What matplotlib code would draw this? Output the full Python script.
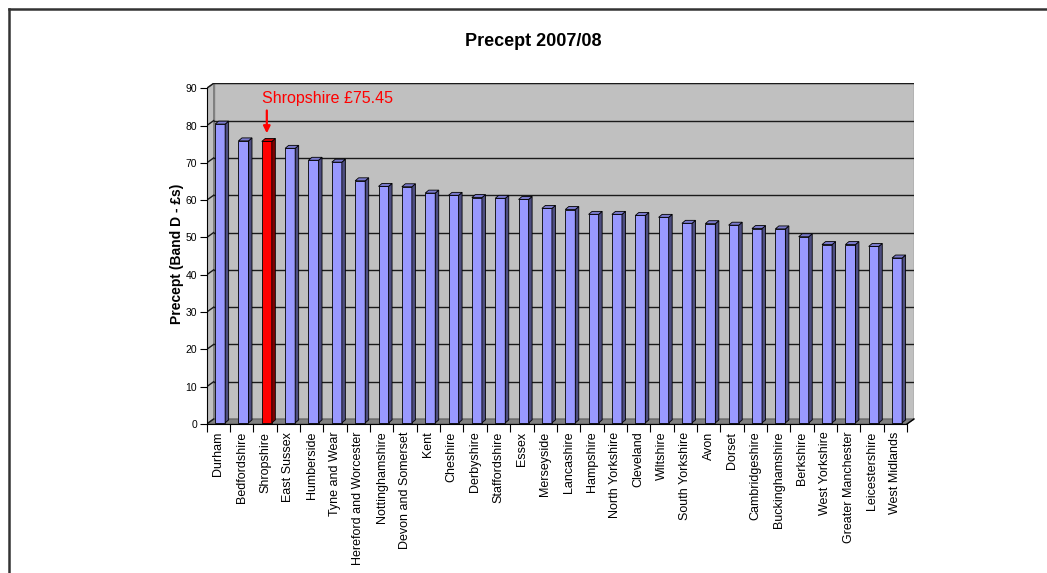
import numpy as np
import matplotlib
matplotlib.use("Agg")
import matplotlib.pyplot as plt
from matplotlib.patches import Polygon, Rectangle
from matplotlib.lines import Line2D

plt.rcParams['font.family'] = ['Liberation Sans', 'DejaVu Sans']

# Band D police precept by force area, 2007/08
forces = ["Durham", "Bedfordshire", "Shropshire", "East Sussex", "Humberside",
          "Tyne and Wear", "Hereford and Worcester", "Nottinghamshire",
          "Devon and Somerset", "Kent", "Cheshire", "Derbyshire", "Staffordshire",
          "Essex", "Merseyside", "Lancashire", "Hampshire", "North Yorkshire",
          "Cleveland", "Wiltshire", "South Yorkshire", "Avon", "Dorset",
          "Cambridgeshire", "Buckinghamshire", "Berkshire", "West Yorkshire",
          "Greater Manchester", "Leicestershire", "West Midlands"]
precept = [80.1, 75.6, 75.45, 73.6, 70.4, 69.9, 64.9, 63.4, 63.3, 61.6,
           61.0, 60.4, 60.2, 59.9, 57.5, 57.2, 55.9, 55.9, 55.6, 55.1,
           53.5, 53.4, 53.0, 52.1, 52.0, 49.9, 47.8, 47.8, 47.3, 44.2]
highlight = "Shropshire"
yticks = list(range(0, 100, 10))

n = len(forces)
# pseudo-3D depth of the walls (category units, value units)
wall_dx, wall_dy = 0.3, 1.34
# bar geometry
bar_x0, bar_w, bar_base = 0.36, 0.43, 0.3
bar_dx, bar_dy = 0.15, 0.8

W, H = 1047, 573
fig = plt.figure(figsize=(W / 100, H / 100), dpi=100)

# axes placed in pixel terms
left_px, right_px, top_px, bottom_px = 206.7, 914.0, 83.3, 424.0
ax = fig.add_axes([left_px / W, (H - bottom_px) / H,
                   (right_px - left_px) / W, (bottom_px - top_px) / H])
ax.set_xlim(0, n + wall_dx)
ax.set_ylim(0, 90 + wall_dy)
ax.patch.set_visible(False)

# walls and floor
ax.add_patch(Rectangle((wall_dx, wall_dy), n, 90, facecolor='#c0c0c0',
                       edgecolor='#808080', lw=1, zorder=0))
ax.add_patch(Polygon([(0, 0), (wall_dx, wall_dy), (wall_dx, 90 + wall_dy), (0, 90)],
                     closed=True, facecolor='#c0c0c0', edgecolor='#808080', lw=1, zorder=0))
ax.add_patch(Polygon([(0, 0), (n, 0), (n + wall_dx, wall_dy), (wall_dx, wall_dy)],
                     closed=True, facecolor='#808080', edgecolor='#606060', lw=0.8, zorder=0.5))
ax.plot([n, n + wall_dx], [0, wall_dy], color='black', lw=1, zorder=3, clip_on=False)

# gridlines on back and side wall
for v in yticks[1:]:
    ax.plot([wall_dx, n + wall_dx], [v + wall_dy, v + wall_dy], color='#1a1a1a',
            lw=1, zorder=0.8)
    ax.plot([0, wall_dx], [v, v + wall_dy], color='#1a1a1a', lw=1, zorder=0.8)
ax.plot([0, wall_dx], [0, wall_dy], color='#1a1a1a', lw=1, zorder=0.8)

# bars: front faces through ax.bar, sides and tops as polygons
colors = ['#ff0000' if f == highlight else '#9999ff' for f in forces]
sides = ['#800000' if f == highlight else '#4d4d80' for f in forces]
tops = ['#cc0000' if f == highlight else '#7a7acc' for f in forces]
xs = np.arange(n) + bar_x0
ax.bar(xs, precept, width=bar_w, bottom=bar_base, align='edge', color=colors,
       edgecolor='black', linewidth=0.6, zorder=2)
for x, v, sc, tc in zip(xs, precept, sides, tops):
    x1 = x + bar_w
    top = bar_base + v
    ax.add_patch(Polygon([(x1, bar_base), (x1 + bar_dx, bar_base + bar_dy),
                          (x1 + bar_dx, top + bar_dy), (x1, top)], closed=True,
                         facecolor=sc, edgecolor='black', lw=0.6, zorder=2))
    ax.add_patch(Polygon([(x, top), (x + bar_dx, top + bar_dy),
                          (x1 + bar_dx, top + bar_dy), (x1, top)], closed=True,
                         facecolor=tc, edgecolor='black', lw=0.6, zorder=2))

# axes lines and ticks
for s in ['top', 'right']:
    ax.spines[s].set_visible(False)
ax.spines['left'].set_bounds(0, 90)
ax.spines['bottom'].set_bounds(0, n)
ax.spines['left'].set_zorder(3)
ax.spines['bottom'].set_zorder(3)
ax.set_yticks(yticks)
ax.set_yticklabels([str(t) for t in yticks], fontsize=7.5)
ax.tick_params(axis='y', length=5, width=0.8, pad=2)
ax.set_xticks(np.arange(n + 1))
ax.set_xticklabels([])
ax.tick_params(axis='x', which='major', length=6, width=0.8)
ax.set_xticks(np.arange(n) + 0.5, minor=True)
ax.set_xticklabels(forces, minor=True, rotation=90, fontsize=9)
ax.tick_params(axis='x', which='minor', length=0, pad=5.5)

ax.set_ylabel('Precept (Band D - £s)', fontsize=10, fontweight='bold', labelpad=1)

fig.text(533 / W, 1 - 41 / H, 'Precept 2007/08', ha='center', va='center',
         fontsize=13, fontweight='bold')

# callout for the highlighted force
hi = forces.index(highlight)
hx = hi + bar_x0 + bar_w / 2
hv = precept[hi]
ax.annotate('', xy=(hx, hv + bar_base + 2.2), xytext=(hx, hv + 8.6),
            arrowprops=dict(arrowstyle='-|>', color='#ff0000', lw=1.6,
                            mutation_scale=10, shrinkA=0, shrinkB=0),
            zorder=4, annotation_clip=False)
ax.text(2.37, 87.3, f'{highlight} £{hv:.2f}', color='#ff0000', fontsize=11.5,
        ha='left', va='center', zorder=4)

# chart border (left and top edges)
fig.add_artist(Line2D([8.5 / W, 8.5 / W], [0, 1 - 9 / H], color='#333333', lw=1.8))
fig.add_artist(Line2D([8.5 / W, 1], [1 - 9 / H, 1 - 9 / H], color='#333333', lw=1.8))

fig.savefig('out.png', dpi=100)
